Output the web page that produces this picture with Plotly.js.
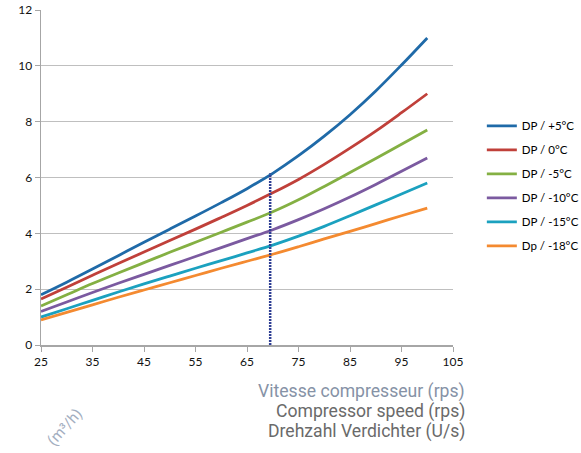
<!DOCTYPE html>
<html>
<head>
<meta charset="utf-8">
<script src="https://cdn.plot.ly/plotly-3.0.1.min.js"></script>
<style>html,body{margin:0;padding:0;background:#fff;}#chart{width:581px;height:453px;}</style>
</head>
<body>
<div id="chart"></div>
<script>
// Data
const seriesNames = ['DP / +5°C', 'DP / 0°C', 'DP / -5°C', 'DP / -10°C', 'DP / -15°C', 'Dp / -18°C'];
const seriesColors = ['#1f6aa8', '#c0403a', '#84b043', '#7b5aa0', '#1ba1bf', '#f48a30'];

const speed = [25, 30, 35, 40, 45, 50, 55, 60, 65, 70, 75, 80, 85, 90, 95, 100];
const yBlue   = [1.8, 2.25, 2.72, 3.2, 3.68, 4.15, 4.62, 5.1, 5.6, 6.15, 6.78, 7.48, 8.25, 9.1, 10.03, 11.0];
const yRed    = [1.65, 2.07, 2.5, 2.92, 3.33, 3.74, 4.15, 4.57, 5.0, 5.45, 5.93, 6.47, 7.05, 7.66, 8.32, 9.0];
const yGreen  = [1.4, 1.8, 2.2, 2.58, 2.95, 3.32, 3.68, 4.04, 4.4, 4.77, 5.2, 5.68, 6.18, 6.68, 7.19, 7.7];
const yPurple = [1.2, 1.54, 1.88, 2.21, 2.53, 2.85, 3.17, 3.49, 3.81, 4.13, 4.49, 4.88, 5.3, 5.75, 6.22, 6.7];
const yCyan   = [1.0, 1.3, 1.6, 1.9, 2.19, 2.47, 2.75, 3.02, 3.3, 3.58, 3.9, 4.25, 4.63, 5.02, 5.41, 5.8];
const yOrange = [0.9, 1.17, 1.44, 1.71, 1.97, 2.23, 2.49, 2.75, 3.0, 3.25, 3.52, 3.8, 4.07, 4.35, 4.63, 4.9];

const markerX = [69.5, 69.5];
const markerY = [0, 6.15];

const xTickVals = [25, 35, 45, 55, 65, 75, 85, 95, 105];
const yTickVals = [0, 2, 4, 6, 8, 10, 12];

const xTitleLines = ['Vitesse compresseur (rps)', 'Compressor speed (rps)', 'Drehzahl Verdichter (U/s)'];
const xTitleColors = ['#8692a6', '#6a6a6a', '#6a6a6a'];
const yTitleText = '(m³/h)';

const ys = [yBlue, yRed, yGreen, yPurple, yCyan, yOrange];

const traces = seriesNames.map((name, i) => ({
  x: speed, y: ys[i], name: name, type: 'scatter', mode: 'lines',
  line: {color: seriesColors[i], width: 2.8, shape: 'spline', smoothing: 1},
  legendgroup: 'g' + i, showlegend: true
}));
traces.push({
  x: markerX, y: markerY, type: 'scatter', mode: 'lines', showlegend: false,
  line: {color: '#2f3f94', width: 2.5, dash: '2px,1px'}, hoverinfo: 'skip'
});

const annotations = xTitleLines.map((t, i) => ({
  text: t, xref: 'paper', yref: 'paper', x: 1.034, y: -0.14 - i * 0.059,
  xanchor: 'right', yanchor: 'middle', showarrow: false,
  font: {family: 'Roboto, sans-serif', size: 17.6, color: xTitleColors[i]}
}));
annotations.push({
  text: yTitleText, xref: 'paper', yref: 'paper', x: 0.058, y: -0.245,
  xanchor: 'center', yanchor: 'middle', showarrow: false, textangle: -48,
  font: {family: 'Roboto, sans-serif', size: 15, color: '#a3aec0'}
});

const layout = {
  width: 581, height: 453,
  margin: {l: 41, r: 128, t: 10, b: 108, autoexpand: false},
  paper_bgcolor: '#ffffff', plot_bgcolor: '#ffffff',
  font: {family: 'Lato, sans-serif', size: 12, color: '#000'},
  xaxis: {
    range: [25, 105], tickvals: xTickVals, showgrid: false, zeroline: false,
    showline: true, linecolor: '#a6a6a6', linewidth: 1.5,
    ticks: 'outside', ticklen: 5, tickcolor: '#a6a6a6', tickwidth: 1,
    tickfont: {family: 'Lato, sans-serif', size: 12, color: '#111'}
  },
  yaxis: {
    range: [0, 12], tickvals: yTickVals, showgrid: true, gridcolor: '#bfbfbf', gridwidth: 1,
    zeroline: false, showline: true, linecolor: '#a6a6a6', linewidth: 1.5,
    ticks: 'outside', ticklen: 5, tickcolor: '#a6a6a6', tickwidth: 1,
    tickfont: {family: 'Lato, sans-serif', size: 12, color: '#111'}
  },
  legend: {
    x: 1.07, y: 0.475, xanchor: 'left', yanchor: 'middle',
    font: {family: 'Lato, sans-serif', size: 11.5, color: '#000'},
    tracegroupgap: 5, itemwidth: 30, bgcolor: 'rgba(0,0,0,0)'
  },
  annotations: annotations,
  showlegend: true
};

Plotly.newPlot('chart', traces, layout, {staticPlot: true, displayModeBar: false});
</script>
</body>
</html>
